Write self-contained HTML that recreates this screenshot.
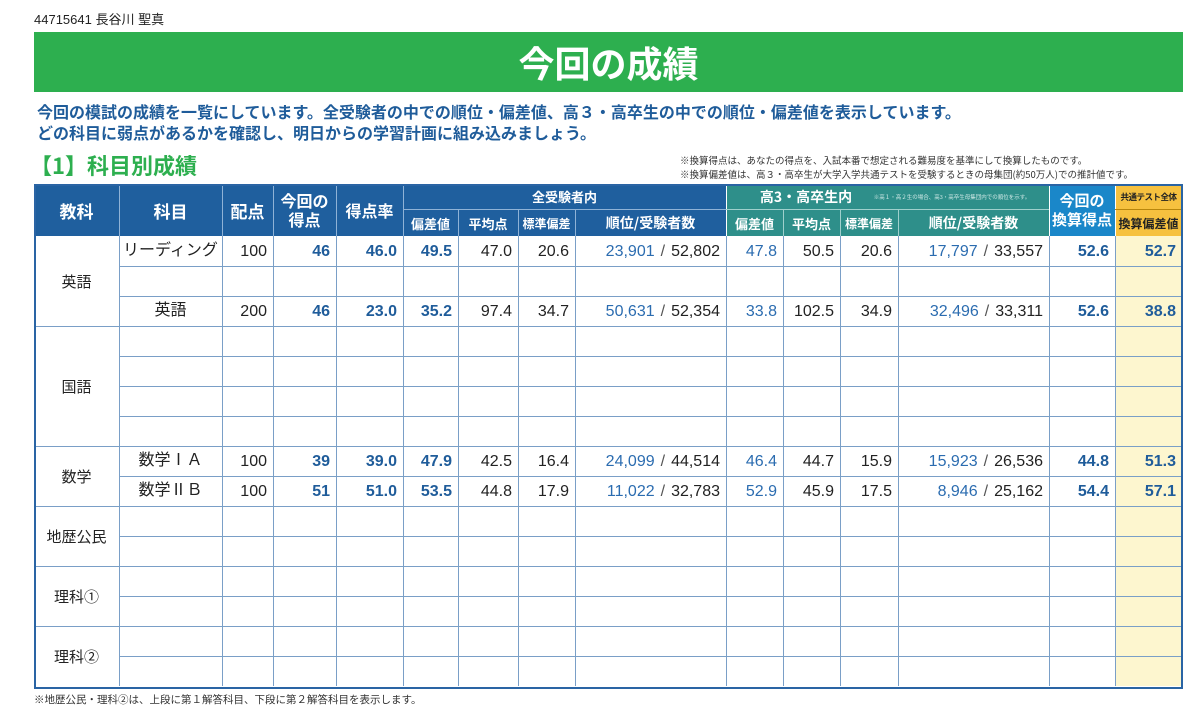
<!DOCTYPE html>
<html><head><meta charset="utf-8">
<style>
body{margin:0;width:1200px;height:718px;background:#fff;position:relative;overflow:hidden;font-family:"Liberation Sans","Noto Sans CJK JP",sans-serif;}
.a{position:absolute;box-sizing:border-box;}
.c{position:absolute;box-sizing:border-box;display:flex;align-items:center;justify-content:center;white-space:nowrap;}
</style></head><body>
<div class="a" style="left:34px;top:9px;font-size:13px;color:#222;">44715641 長谷川 聖真</div>
<div class="c" style="left:34px;top:32px;width:1149px;height:60px;background:#2daf4f;color:#fff;font-size:36px;font-weight:bold;font-family:'Noto Sans CJK JP',sans-serif;">今回の成績</div>
<div class="a" style="left:37px;top:101px;font-size:16px;line-height:21px;color:#1f5c9a;font-weight:bold;font-family:'Noto Sans CJK JP',sans-serif;">今回の模試の成績を一覧にしています。全受験者の中での順位・偏差値、高３・高卒生の中での順位・偏差値を表示しています。<br>どの科目に弱点があるかを確認し、明日からの学習計画に組み込みましょう。</div>
<div class="a" style="left:30px;top:149px;font-size:22px;color:#2daf4f;font-weight:bold;font-family:'Noto Sans CJK JP',sans-serif;">【1】科目別成績</div>
<div class="a" style="left:680px;top:153px;font-size:9.5px;line-height:14px;color:#333;font-family:'Noto Sans CJK JP',sans-serif;">※換算得点は、あなたの得点を、入試本番で想定される難易度を基準にして換算したものです。<br>※換算偏差値は、高３・高卒生が大学入学共通テストを受験するときの母集団(約50万人)での推計値です。</div>
<div class="a" style="left:34px;top:692px;font-size:10.5px;color:#333;font-family:'Noto Sans CJK JP',sans-serif;">※地歴公民・理科②は、上段に第１解答科目、下段に第２解答科目を表示します。</div>
<div id="tbl"></div>
<script>
const xs=[34,119,222,273,336,403,458,518,575,726,783,840,898,1049,1115,1182];
const ys=[236,266,296,326,356,386,416,446,476,506,536,566,596,626,656,686];
const groups=[["英語",0,3],["国語",3,7],["数学",7,9],["地歴公民",9,11],["理科①",11,13],["理科②",13,15]];
const rows=[
 [0,"リーディング","100","46","46.0","49.5","47.0","20.6","23,901","52,802","47.8","50.5","20.6","17,797","33,557","52.6","52.7"],
 [2,"英語","200","46","23.0","35.2","97.4","34.7","50,631","52,354","33.8","102.5","34.9","32,496","33,311","52.6","38.8"],
 [7,"数学ⅠＡ","100","39","39.0","47.9","42.5","16.4","24,099","44,514","46.4","44.7","15.9","15,923","26,536","44.8","51.3"],
 [8,"数学ⅡＢ","100","51","51.0","53.5","44.8","17.9","11,022","32,783","52.9","45.9","17.5","8,946","25,162","54.4","57.1"]];
const T=document.getElementById('tbl');
function box(x,y,w,h,st,txt,name){const d=document.createElement('div');d.className='c';
d.style.cssText+=`left:${x}px;top:${y}px;width:${w}px;height:${h}px;`+st;
if(txt!==undefined)d.innerHTML=txt;


T.appendChild(d);return d;}
box(34,184,692,52,"background:#1f5f9e;",undefined,'header-all');
box(726,184,323,52,"background:#2e8f8a;",undefined,'header-hs');
box(1049,184,66,52,"background:#1a87c9;",undefined,'header-conv');
box(1115,184,67,52,"background:#f6c13f;",undefined,'header-yellow');
box(1115,236,67,450,"background:#fdf6cf;",undefined,'yellow-column');
const hl="background:#8fb2d6;";
[119,222,273,336,403].forEach(x=>box(x,186,1,50,hl,undefined,'header-divider'));
[458,518,575].forEach(x=>box(x,210,1,26,hl,undefined,'header-divider'));
[783,840,898].forEach(x=>box(x,210,1,26,"background:#9fd0cc;",undefined,'header-divider'));
box(726,186,1,50,"background:#fff;",undefined,'header-divider');
box(1049,186,1,50,"background:#fff;",undefined,'header-divider');
box(1115,186,1,50,"background:#fff;",undefined,'header-divider');
box(403,209,323,1,hl,undefined,'header-divider');
box(726,209,323,1,"background:#9fd0cc;",undefined,'header-divider');
box(1115,209,67,1,"background:#b8860b;",undefined,'header-divider');
const H="color:#fff;font-weight:bold;font-family:'Noto Sans CJK JP',sans-serif;";
box(34,184,85,52,H+"font-size:17px;","教科",'header-kyoka');
box(119,184,103,52,H+"font-size:17px;","科目",'header-kamoku');
box(222,184,51,52,H+"font-size:17px;","配点",'header-haiten');
box(273,184,63,52,H+"font-size:16px;line-height:19px;text-align:center;","今回の<br>得点",'header-score');
box(336,184,67,52,H+"font-size:16px;","得点率",'header-rate');
box(403,184,323,25,H+"font-size:13px;","全受験者内",'header-all-title');
box(726,184,160,25,H+"font-size:14px;","高3・高卒生内",'header-hs-title');
box(855,184,194,25,"color:#cfe9e6;font-size:5.5px;font-family:'Noto Sans CJK JP',sans-serif;","※高１・高２生の場合、高3・高卒生母集団内での順位を示す。",'header-hs-note');
const sub=[["偏差値",403,458,13],["平均点",458,518,13],["標準偏差",518,575,12],["順位/受験者数",575,726,14],["偏差値",726,783,13],["平均点",783,840,13],["標準偏差",840,898,12],["順位/受験者数",898,1049,14]];
sub.forEach(s=>box(s[1],210,s[2]-s[1],26,H+`font-size:${s[3]}px;`,s[0],'subheader'));
box(1049,184,66,52,H+"font-size:15px;line-height:19px;text-align:center;","今回の<br>換算得点",'header-conv-score');
box(1115,184,67,25,"color:#222;font-weight:bold;font-size:8.5px;letter-spacing:-0.5px;font-family:'Noto Sans CJK JP',sans-serif;","共通テスト全体",'header-common');
box(1115,210,67,26,"color:#222;font-weight:bold;font-size:12px;font-family:'Noto Sans CJK JP',sans-serif;","換算偏差値",'header-conv-dev');
const gl="background:#7a9fc7;";
for(let i=1;i<xs.length-1;i++)box(xs[i],236,1,450,gl,undefined,'grid-v');
for(let j=1;j<ys.length-1;j++){const isGroup=groups.some(g=>g[1]===j);
 const x0=isGroup?34:119;box(x0,ys[j],1182-x0,1,gl,undefined,'grid-h');}
box(34,184,1149,505,"border:2px solid #2a64a4;",undefined,'table-border');
groups.forEach(g=>box(34,ys[g[1]],85,ys[g[2]]-ys[g[1]],"font-size:15px;color:#222;",g[0],'subject-group'));
const B="#1f5c9a",K="#222";
rows.forEach(r=>{const y=ys[r[0]],h=30;
 const R="justify-content:flex-end;padding-right:6px;font-size:16px;line-height:30px;padding-top:1px;";
 box(119,y,103,h,"font-size:16px;line-height:30px;color:"+K+";",r[1],'subject-name');
 box(222,y,51,h,R+"color:"+K,r[2],'max-score');
 box(273,y,63,h,R+"color:"+B+";font-weight:bold;",r[3],'score');
 box(336,y,67,h,R+"color:"+B+";font-weight:bold;",r[4],'score-rate');
 box(403,y,55,h,R+"color:"+B+";font-weight:bold;",r[5],'deviation-all');
 box(458,y,60,h,R+"color:"+K,r[6],'average-all');
 box(518,y,57,h,R+"color:"+K,r[7],'stdev-all');
 box(575,y,151,h,R+"color:"+K,`<span style="color:#2b6cb0">${r[8]}</span><span style="padding:0 6px;color:#555">/</span>${r[9]}`,'rank-all');
 box(726,y,57,h,R+"color:#2b6cb0;",r[10],'deviation-hs');
 box(783,y,57,h,R+"color:"+K,r[11],'average-hs');
 box(840,y,58,h,R+"color:"+K,r[12],'stdev-hs');
 box(898,y,151,h,R+"color:"+K,`<span style="color:#2b6cb0">${r[13]}</span><span style="padding:0 6px;color:#555">/</span>${r[14]}`,'rank-hs');
 box(1049,y,66,h,R+"color:"+B+";font-weight:bold;",r[15],'converted-score');
 box(1115,y,67,h,R+"color:"+B+";font-weight:bold;",r[16],'converted-deviation');
});
</script>
</body></html>
